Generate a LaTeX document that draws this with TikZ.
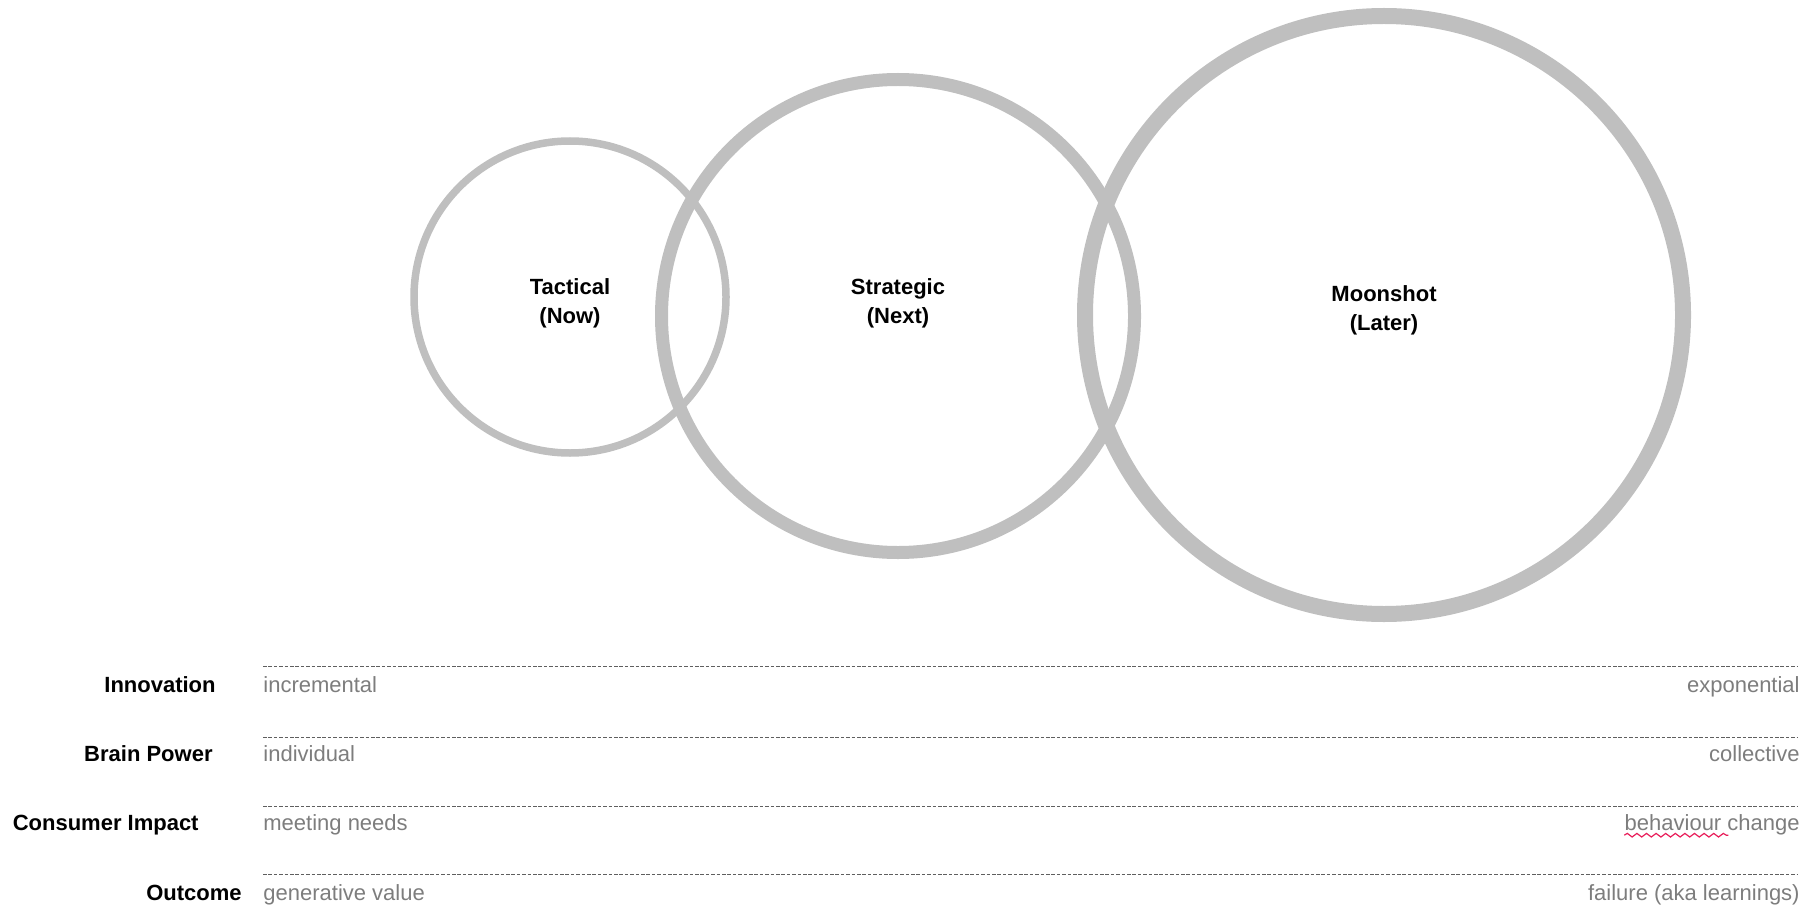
\documentclass[tikz,border=0pt]{standalone}
\usepackage{fontspec}
\setmainfont{Liberation Sans}
\usepackage{xcolor}
\usetikzlibrary{decorations.pathmorphing}

\definecolor{ringgray}{RGB}{191,191,191}
\definecolor{poletext}{RGB}{125,125,125}
\definecolor{rulegray}{RGB}{95,95,95}
\definecolor{spellred}{RGB}{232,30,90}

\tikzset{
  ring/.style={circle, draw=ringgray, inner sep=0pt, outer sep=0pt},
  phase/.style={align=center, font=\fontsize{11}{14.5}\selectfont\bfseries},
  factor/.style={anchor=base east, inner sep=0pt, font=\fontsize{11}{13}\selectfont\bfseries},
  lowpole/.style={anchor=base west, inner sep=0pt, text=poletext, font=\fontsize{11}{13}\selectfont},
  highpole/.style={anchor=base east, inner sep=0pt, text=poletext, font=\fontsize{11}{13}\selectfont},
  scaleline/.style={rulegray, line width=0.5pt, dash pattern=on 1.8pt off 0.9pt},
}

\begin{document}
\begin{tikzpicture}[x=0.5pt,y=-0.5pt]
    \useasboundingbox (0,0) rectangle (1802,909);
    % horizons
    \node[ring, line width=3.75pt, minimum size=156pt] (now) at (570,297) {};
    \node[ring, line width=6.5pt, minimum size=236.5pt] (next) at (898,316) {};
    \node[ring, line width=8pt, minimum size=299pt] (later) at (1384,315) {};
    \node[phase] (nowlbl) at (570,303) {Tactical\\(Now)};
    \node[phase] (nextlbl) at (898,303) {Strategic\\(Next)};
    \node[phase] (laterlbl) at (1384,310) {Moonshot\\(Later)};
    % scales
    \node[factor] (inno) at (216,692) {Innovation};
    \node[lowpole] (inno lo) at (263,692) {incremental};
    \node[highpole] (inno hi) at (1800,692) {exponential};
    \coordinate (inno a) at (263,666);
    \coordinate (inno b) at (1798,666);
    \draw[scaleline] (inno a) -- (inno b);

    \node[factor] (brain) at (213,761) {Brain Power};
    \node[lowpole] (brain lo) at (263,761) {individual};
    \node[highpole] (brain hi) at (1800,761) {collective};
    \coordinate (brain a) at (263,737);
    \coordinate (brain b) at (1798,737);
    \draw[scaleline] (brain a) -- (brain b);

    \node[factor] (impact) at (199,830) {Consumer Impact};
    \node[lowpole] (impact lo) at (263,830) {meeting needs};
    \node[highpole] (impact hi) at (1800,830) {behaviour change};
    \coordinate (impact a) at (263,806);
    \coordinate (impact b) at (1798,806);
    \draw[scaleline] (impact a) -- (impact b);
    \draw[spellred, line width=0.6pt, decorate, decoration={snake, amplitude=0.9pt, segment length=4.8pt}]
        ([yshift=-2.6pt]impact hi.base west) -- ++(104,0);

    \node[factor] (outcome) at (242,900) {Outcome};
    \node[lowpole] (outcome lo) at (263,900) {generative value};
    \node[highpole] (outcome hi) at (1800,900) {failure (aka learnings)};
    \coordinate (outcome a) at (263,874);
    \coordinate (outcome b) at (1798,874);
    \draw[scaleline] (outcome a) -- (outcome b);
\end{tikzpicture}
\end{document}
